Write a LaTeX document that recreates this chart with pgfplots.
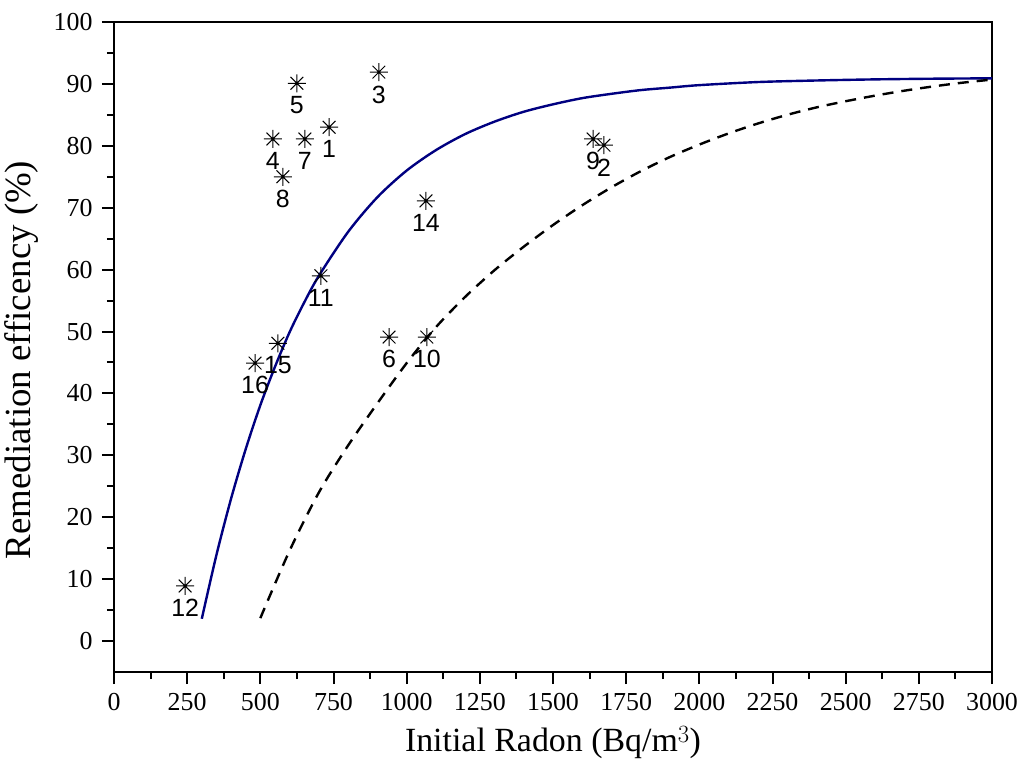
\documentclass[border=0pt]{standalone}
\usepackage{pgfplots}
\pgfplotsset{compat=1.18}
\usepackage{fontspec}
\setmainfont{Liberation Serif}
\newfontfamily\labfont{Liberation Sans}
\definecolor{navy}{RGB}{0,0,128}

% eight-armed star, like the Origin symbol
\pgfdeclareplotmark{ast8}{%
  \pgfpathmoveto{\pgfqpoint{-\pgfplotmarksize}{0pt}}\pgfpathlineto{\pgfqpoint{\pgfplotmarksize}{0pt}}%
  \pgfpathmoveto{\pgfqpoint{0pt}{-\pgfplotmarksize}}\pgfpathlineto{\pgfqpoint{0pt}{\pgfplotmarksize}}%
  \pgfpathmoveto{\pgfqpoint{-0.707\pgfplotmarksize}{-0.707\pgfplotmarksize}}\pgfpathlineto{\pgfqpoint{0.707\pgfplotmarksize}{0.707\pgfplotmarksize}}%
  \pgfpathmoveto{\pgfqpoint{-0.707\pgfplotmarksize}{0.707\pgfplotmarksize}}\pgfpathlineto{\pgfqpoint{0.707\pgfplotmarksize}{-0.707\pgfplotmarksize}}%
  \pgfusepathqstroke}

\begin{document}
\begin{tikzpicture}
\begin{axis}[
  name=ax,
  scale only axis,
  width=878bp, height=650bp,
  xmin=0, xmax=3000,
  ymin=-5, ymax=100,
  xtick={0,250,...,3000},
  ytick={0,10,...,100},
  minor x tick num=1,
  minor y tick num=1,
  xtick pos=bottom, ytick pos=left,
  tick align=outside,
  major tick length=12bp,
  minor tick length=7bp,
  every tick/.style={black, line width=2bp},
  axis line style={line width=2.2bp},
  /pgf/number format/assume math mode=true,
  /pgf/number format/set thousands separator={},
  ticklabel style={font=\fontsize{26}{26}\selectfont},
  xticklabel style={yshift=-6bp},
  yticklabel style={xshift=-6bp},
  xlabel={Initial Radon (Bq/m$^{3}$)},
  ylabel={Remediation efficency (\%)},
  xlabel style={font=\fontsize{34}{34}\selectfont,
    at={(axis description cs:0.5,-0.108)}, anchor=center},
  ylabel style={font=\fontsize{37}{37}\selectfont,
    at={(axis description cs:-0.105,0.48)}, anchor=center},
  clip=false,
]
% fitted curve
\addplot[navy, line width=2.4bp, smooth] coordinates {
  (300,3.6) (350,13.9) (400,23.0) (450,31.0) (500,38.1) (550,44.3)
  (600,49.9) (650,54.7) (700,59.0) (800,66.1) (900,71.7) (1000,76.0)
  (1100,79.3) (1200,81.9) (1300,83.9) (1400,85.5) (1500,86.7)
  (1600,87.7) (1700,88.4) (1800,89.0) (1900,89.4) (2000,89.8)
  (2200,90.3) (2400,90.55) (2600,90.73) (2800,90.84) (3000,90.9)
};
% dashed curve
\addplot[black, line width=2.4bp, dash pattern=on 11bp off 8bp, smooth] coordinates {
  (500,3.7) (600,14.6) (700,24.0) (800,31.6) (900,38.4) (1000,44.9)
  (1100,50.7) (1200,55.6) (1300,59.9) (1400,63.7) (1500,67.2)
  (1600,70.4) (1700,73.3) (1800,75.9) (1900,78.2) (2000,80.2)
  (2100,82.0) (2200,83.6) (2300,85.0) (2400,86.2) (2500,87.2)
  (2600,88.1) (2700,88.9) (2800,89.6) (2900,90.2) (3000,90.7)
};
% measured houses
\addplot[only marks, mark=ast8, mark size=9bp, black,
  mark options={line width=1bp},
  point meta=explicit symbolic,
  nodes near coords,
  every node near coord/.append style={anchor=north, inner sep=0pt,
    yshift=-13bp, font=\labfont\fontsize{25}{25}\selectfont},
] coordinates {
  (735,83.0) [1]
  (1674,80.1) [2]
  (905,91.9) [3]
  (543,81.1) [4]
  (625,90.1) [5]
  (940,49.1) [6]
  (652,81.1) [7]
  (577,75.0) [8]
  (1637,81.1) [9]
  (1069,49.1) [10]
  (707,59.0) [11]
  (243,8.9) [12]
  (1066,71.1) [14]
  (560,48.1) [15]
  (482,44.9) [16]
};
\end{axis}
\path ([xshift=-114bp,yshift=-109bp]ax.south west) rectangle ([xshift=31bp,yshift=22bp]ax.north east);
\end{tikzpicture}
\end{document}
